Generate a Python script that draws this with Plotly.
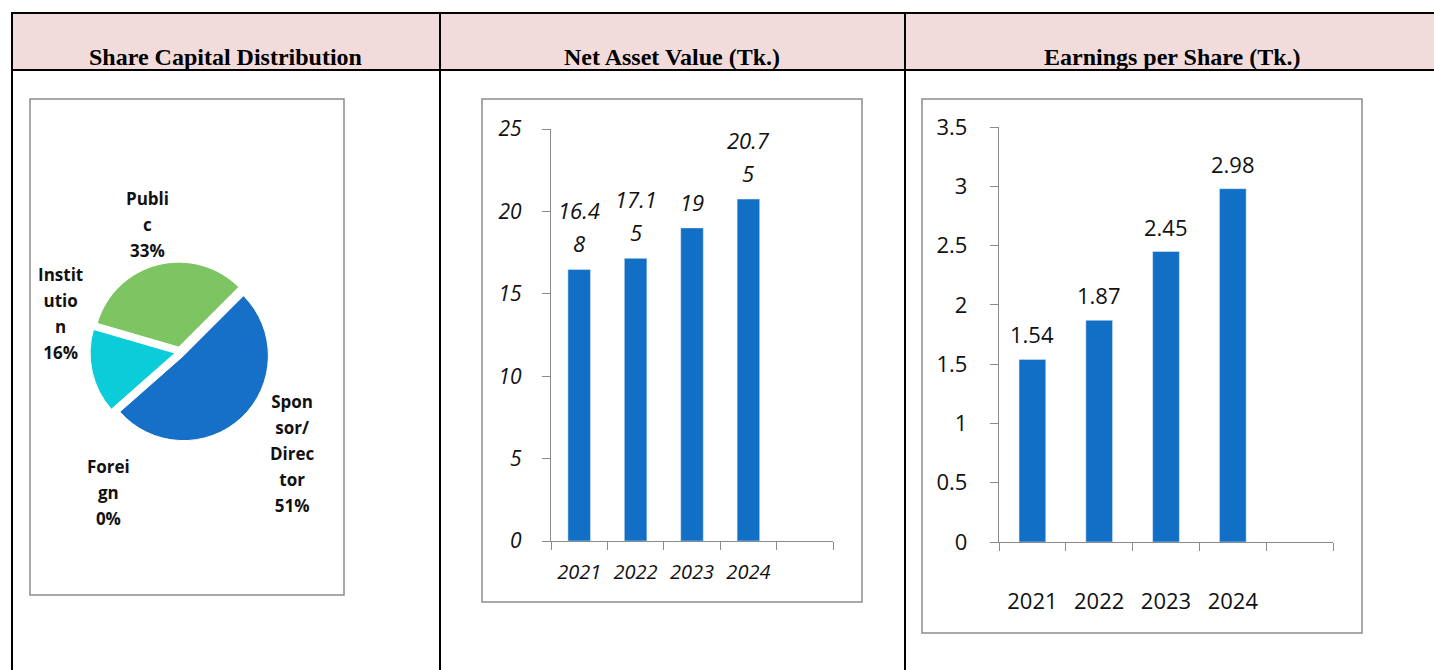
import plotly.graph_objects as go

W, H = 1434, 670

# ---------------- data ----------------
pie_labels = ["Sponsor/Director", "Foreign", "Institution", "Public"]
pie_wrapped = ["Spon<br>sor/<br>Direc<br>tor", "Forei<br>gn", "Instit<br>utio<br>n", "Publi<br>c"]
pie_values = [51, 0, 16, 33]
pie_colors = ["#1670C8", "#0E6E80", "#0BCDD9", "#7DC462"]

years = ["2021", "2022", "2023", "2024"]
nav_values = [16.48, 17.15, 19, 20.75]
eps_values = [1.54, 1.87, 2.45, 2.98]

titles = ["Share Capital Distribution", "Net Asset Value (Tk.)", "Earnings per Share (Tk.)"]

BAR = "#126FC6"
AX = "#8A8A8A"


def px(x):
    return x / W


def py(y):
    return 1 - y / H


def wrap_num(v):
    s = f"{v:g}"
    return s if len(s) <= 4 else s[:4] + "<br>" + s[4:]


def spaced(text, glyph_px):
    # keep wide line spacing (outer font) while drawing smaller glyphs
    return "<br>".join(f'<span style="font-size:{glyph_px}px">{ln}</span>' for ln in text.split("<br>"))


fig = go.Figure()

# ---------------- pie ----------------
fig.add_trace(go.Pie(
    labels=pie_labels, values=pie_values, sort=False, direction="clockwise",
    rotation=45, marker=dict(colors=pie_colors, line=dict(color="white", width=1)),
    pull=[0.06, 0.06, 0.06, 0.06], textinfo="none", hoverinfo="label+percent",
    domain=dict(x=[px(90), px(270)], y=[py(442), py(262)]), showlegend=False,
))

pie_label_pos = {  # centre of each label block (pixels)
    "Sponsor/Director": (292, 453),
    "Foreign": (108, 492),
    "Institution": (60, 313),
    "Public": (147, 224),
}
for lab, wl, v in zip(pie_labels, pie_wrapped, pie_values):
    x, y = pie_label_pos[lab]
    fig.add_annotation(x=px(x), y=py(y), xref="paper", yref="paper",
                       text="<b>" + spaced(f"{wl}<br>{v}%", 17) + "</b>", showarrow=False,
                       font=dict(family="Open Sans", size=20, color="#111"),
                       xanchor="center", yanchor="middle", align="center")

# ---------------- NAV bars ----------------
cats = years + [" "]
fig.add_trace(go.Bar(x=years, y=nav_values, marker_color=BAR, width=0.4,
                     xaxis="x", yaxis="y", showlegend=False, hoverinfo="x+y"))
for i, v in enumerate(nav_values):
    fig.add_annotation(x=i, y=v, xref="x", yref="y", text=spaced(wrap_num(v), 22),
                       showarrow=False, yanchor="bottom", yshift=9,
                       font=dict(family="Open Sans", size=25, color="#111", style="italic"))

# ---------------- EPS bars ----------------
fig.add_trace(go.Bar(x=years, y=eps_values, marker_color=BAR, width=0.4,
                     xaxis="x2", yaxis="y2", showlegend=False, hoverinfo="x+y"))
for i, v in enumerate(eps_values):
    fig.add_annotation(x=i, y=v, xref="x2", yref="y2", text=f"{v:g}",
                       showarrow=False, yanchor="bottom", yshift=8,
                       font=dict(family="Open Sans", size=22, color="#111"))

axis_common = dict(showline=True, linecolor=AX, linewidth=1.3, ticks="outside",
                   tickcolor=AX, ticklen=8, tickwidth=1.3, showgrid=False,
                   zeroline=False, fixedrange=True, automargin=False)

fig.update_layout(
    width=W, height=H, margin=dict(l=0, r=0, t=0, b=0, pad=0, autoexpand=False),
    paper_bgcolor="white", plot_bgcolor="rgba(0,0,0,0)",
    xaxis=dict(**axis_common, domain=[px(551), px(833)], anchor="y",
               type="category", categoryorder="array", categoryarray=cats,
               range=[-0.5, 4.5], tickson="boundaries", ticklabelstandoff=13,
               tickfont=dict(family="Open Sans", size=20, color="#111", style="italic")),
    yaxis=dict(**axis_common, domain=[py(541), py(129)], anchor="x",
               range=[0, 25], dtick=5, ticklabelstandoff=16,
               tickfont=dict(family="Open Sans", size=21, color="#111", style="italic")),
    xaxis2=dict(**axis_common, domain=[px(999), px(1333)], anchor="y2",
                type="category", categoryorder="array", categoryarray=cats,
                range=[-0.5, 4.5], tickson="boundaries", ticklabelstandoff=39,
                tickfont=dict(family="Open Sans", size=22, color="#111")),
    yaxis2=dict(**axis_common, domain=[py(542), py(127)], anchor="x2",
                range=[0, 3.5], dtick=0.5, ticklabelstandoff=18,
                tickfont=dict(family="Open Sans", size=22, color="#111")),
)

# ---------------- table frame ----------------
shapes = []
shapes.append(dict(type="rect", xref="paper", yref="paper", x0=px(12), x1=px(1434),
                   y0=py(70), y1=py(13), fillcolor="#F2DCDB", line=dict(width=0), layer="below"))
for (x0, y0, x1, y1) in [(12, 13, 1434, 13), (12, 70, 1434, 70)]:
    shapes.append(dict(type="line", xref="paper", yref="paper", x0=px(x0), x1=px(x1),
                       y0=py(y0), y1=py(y1), line=dict(color="black", width=2)))
for x in [12, 440, 905]:
    shapes.append(dict(type="line", xref="paper", yref="paper", x0=px(x), x1=px(x),
                       y0=py(12), y1=py(670), line=dict(color="black", width=2)))
# chart frames
for (x0, y0, x1, y1) in [(30, 99, 344, 595), (482, 99, 862, 602), (922, 99, 1362, 633)]:
    shapes.append(dict(type="rect", xref="paper", yref="paper", x0=px(x0), x1=px(x1),
                       y0=py(y1), y1=py(y0), line=dict(color="#8C8C8C", width=1.5),
                       fillcolor="rgba(0,0,0,0)", layer="below"))
fig.update_layout(shapes=shapes)

for t, cx in zip(titles, [225, 672, 1172]):
    fig.add_annotation(x=px(cx), y=py(57), xref="paper", yref="paper", text=f"<b>{t}</b>",
                       showarrow=False, xanchor="center", yanchor="middle",
                       font=dict(family="Liberation Serif", size=24, color="black"))

fig.write_html("out.html", config={"displayModeBar": False})
